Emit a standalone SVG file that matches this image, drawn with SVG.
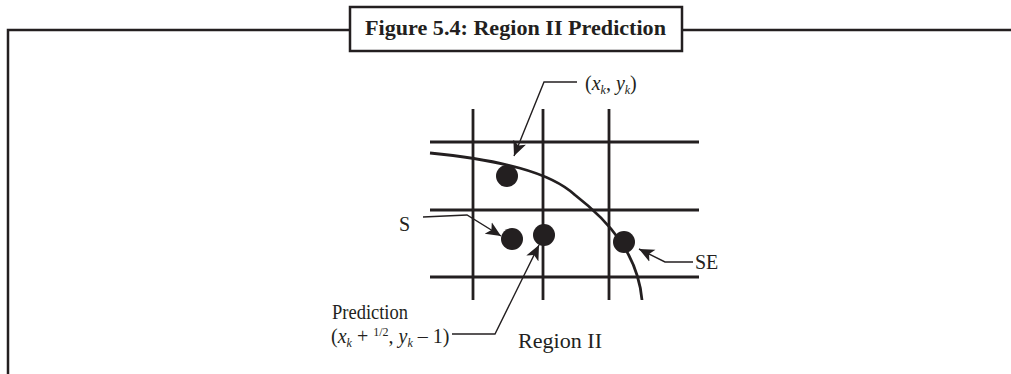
<svg xmlns="http://www.w3.org/2000/svg" width="1011" height="374" viewBox="0 0 1011 374">
<style>
.frame{fill:none;stroke:#231f20;stroke-width:2.5}
.grid{stroke:#231f20;stroke-width:2.8;fill:none}
.curve{stroke:#231f20;stroke-width:2.8;fill:none}
.dot{fill:#231f20}
.lead{stroke:#231f20;stroke-width:1.4;fill:none}
.t{font-family:"Liberation Serif","Times New Roman",serif;font-size:20px;fill:#231f20}
.title{font-family:"Liberation Serif","Times New Roman",serif;font-size:22px;font-weight:bold;fill:#231f20}
.i{font-style:italic}
.sub{font-size:12px;font-style:italic}
</style>
<defs>
<marker id="ah" viewBox="0 0 10 10" refX="10" refY="5" markerWidth="15" markerHeight="15" markerUnits="userSpaceOnUse" orient="auto">
<path d="M0,0.5 L10,5 L0,9.5 L2.5,5 Z" fill="#231f20"/>
</marker>
</defs>
<g id="frame">
<path class="frame" d="M8,374 V30 H350 M682,30 H1011"/>
<rect class="frame" x="350" y="7" width="332" height="44" fill="#fff"/>
<text class="title" x="365" y="35" textLength="301" lengthAdjust="spacingAndGlyphs">Figure 5.4: Region II Prediction</text>
</g>
<g id="grid">
<line class="grid" x1="430" y1="142" x2="699" y2="142"/>
<line class="grid" x1="430" y1="210" x2="699" y2="210"/>
<line class="grid" x1="430" y1="277" x2="699" y2="277"/>
<line class="grid" x1="473" y1="109" x2="473" y2="300"/>
<line class="grid" x1="543" y1="109" x2="543" y2="300"/>
<line class="grid" x1="609" y1="109" x2="609" y2="300"/>
</g>
<g id="curve">
<path class="curve" d="M430,153 C500,160 550,172 575,195 C610,222 638,255 642,300"/>
</g>
<g id="dot-xk"><circle class="dot" cx="507" cy="176" r="11"/></g>
<g id="dot-s"><circle class="dot" cx="512" cy="239" r="11"/></g>
<g id="dot-pred"><circle class="dot" cx="544" cy="235" r="11"/></g>
<g id="dot-se"><circle class="dot" cx="624" cy="242" r="11"/></g>
<g id="connectors">
<path class="lead" d="M577,82 H544 L514,156" marker-end="url(#ah)"/>
<path class="lead" d="M423,217 L467,215 L501,236" marker-end="url(#ah)"/>
<path class="lead" d="M693,262 H665 L639,249" marker-end="url(#ah)"/>
<path class="lead" d="M452,334 H495 L539,245" marker-end="url(#ah)"/>
</g>
<g id="labels">
<text class="t" x="585" y="90">(<tspan class="i">x</tspan><tspan class="sub" dy="4">k</tspan><tspan dy="-4">, </tspan><tspan class="i">y</tspan><tspan class="sub" dy="4">k</tspan><tspan dy="-4">)</tspan></text>
<text class="t" x="399" y="231">S</text>
<text class="t" x="695" y="269">SE</text>
<text class="t" x="332" y="319" textLength="76" lengthAdjust="spacingAndGlyphs">Prediction</text>
<text class="t" x="331" y="343">(<tspan class="i">x</tspan><tspan class="sub" dy="4">k</tspan><tspan dy="-4"> + </tspan><tspan font-size="12" dy="-7">1/2</tspan><tspan dy="7">, </tspan><tspan class="i">y</tspan><tspan class="sub" dy="4">k</tspan><tspan dy="-4"> – 1)</tspan></text>
<text class="t" x="518" y="348" textLength="84" lengthAdjust="spacingAndGlyphs">Region II</text>
</g>
</svg>
